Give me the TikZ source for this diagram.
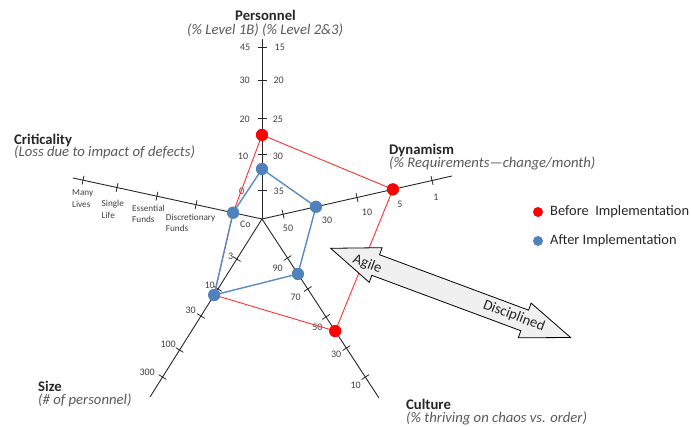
\documentclass[tikz,border=0pt]{standalone}
\usepackage{fontspec}
\setmainfont{Carlito}
\usetikzlibrary{calc}
\definecolor{redpt}{HTML}{FF0000}
\definecolor{redln}{HTML}{FF3030}
\definecolor{bluept}{HTML}{4F81BD}
\definecolor{blueln}{HTML}{5A8AC6}
\definecolor{subgray}{HTML}{595959}
\definecolor{lblgray}{HTML}{404040}
\definecolor{txtdark}{HTML}{262626}
\definecolor{arrowfill}{HTML}{F0F0F0}
\begin{document}
\begin{tikzpicture}[x=1pt,y=-1pt,
  axisline/.style={draw=black!85,line width=0.9pt},
  tickmark/.style={draw=black!85,line width=0.8pt},
  ticklbl/.style={font=\fontsize{10}{12}\selectfont,text=lblgray,inner sep=0pt},
  critlbl/.style={font=\fontsize{9.2}{11.2}\selectfont,text=lblgray,inner sep=0pt,anchor=base west},
  axtitle/.style={font=\fontsize{14.7}{17}\selectfont\bfseries,text=txtdark,inner sep=0pt,anchor=base west},
  axsub/.style={font=\fontsize{14.7}{17}\selectfont\itshape,text=subgray,inner sep=0pt,anchor=base west},
  legendtxt/.style={font=\fontsize{14.4}{17}\selectfont,text=txtdark,inner sep=0pt,anchor=base west},
  arrowtxt/.style={font=\fontsize{14.7}{17}\selectfont,text=txtdark,inner sep=0pt,rotate=-21},
  redline/.style={draw=redln,line width=0.9pt},
  blueline/.style={draw=blueln,line width=1.4pt},
  reddot/.style={circle,fill=redpt,inner sep=0pt,minimum size=12pt},
  bluedot/.style={circle,fill=bluept,inner sep=0pt,minimum size=12pt},
  bigarrow/.style={draw=black,line width=0.8pt,fill=arrowfill,line join=miter}
]
\useasboundingbox (0,0) rectangle (691,427);

% ---- axes: centre and the five outer ends
\coordinate (O)   at (262,219);
\coordinate (EP)  at (262,39);   % personnel
\coordinate (ED)  at (452,176);  % dynamism
\coordinate (EU)  at (379,398);  % culture
\coordinate (ES)  at (150,397);  % size
\coordinate (EK)  at (73,178);   % criticality

\foreach \e in {EP,ED,EU,ES,EK} \draw[axisline] (O) -- (\e);

% ---- tick marks, placed as fractions along each axis
\foreach \e/\fl in {EP/{0.161,0.361,0.561,0.772,0.956},
                    ED/{0.111,0.284,0.5,0.689,0.895},
                    EU/{0.218,0.391,0.547,0.721,0.883},
                    ES/{0.225,0.393,0.545,0.736,0.888},
                    EK/{0.349,0.556,0.767,0.947}}{
  \foreach \f in \fl {
    \coordinate (t) at ($(O)!\f!(\e)$);
    \draw[tickmark] ($(t)!4.5pt!90:(\e)$) -- ($(t)!4.5pt!-90:(\e)$);
  }
}

% ---- personnel scale labels
\node[ticklbl,anchor=east] (pl45) at (250.5,47.3) {45};
\node[ticklbl,anchor=east] (pl30) at (250,80) {30};
\node[ticklbl,anchor=east] (pl20) at (250,119) {20};
\node[ticklbl,anchor=east] (pl10) at (248.3,156) {10};
\node[ticklbl,anchor=east] (pl0)  at (244.3,191) {0};
\node[ticklbl,anchor=west] (pr15) at (274.5,47.3) {15};
\node[ticklbl,anchor=west] (pr20) at (273.3,80) {20};
\node[ticklbl,anchor=west] (pr25) at (272.7,119) {25};
\node[ticklbl,anchor=west] (pr30) at (272.7,156) {30};
\node[ticklbl,anchor=west] (pr35) at (273.5,191) {35};

% ---- dynamism scale labels
\node[ticklbl] (d50) at (288,228) {50};
\node[ticklbl] (d30) at (327,220) {30};
\node[ticklbl] (d10) at (367,212) {10};
\node[ticklbl] (d5)  at (400,204) {5};
\node[ticklbl] (d1)  at (436,197) {1};

% ---- culture scale labels
\node[ticklbl,anchor=east] (u90) at (283,268) {90};
\node[ticklbl,anchor=east] (u70) at (301,297) {70};
\node[ticklbl,anchor=east] (u50) at (322.7,327) {50};
\node[ticklbl,anchor=east] (u30) at (341.5,354.3) {30};
\node[ticklbl,anchor=east] (u10) at (361,385.7) {10};

% ---- size scale labels
\node[ticklbl,anchor=east] (s3)   at (233.5,256.7) {3};
\node[ticklbl,anchor=east] (s10)  at (215,285) {10};
\node[ticklbl,anchor=east] (s30)  at (196,310) {30};
\node[ticklbl,anchor=east] (s100) at (176,344.3) {100};
\node[ticklbl,anchor=east] (s300) at (155,372.7) {300};

% ---- criticality scale labels
\node[critlbl] (kmany) at (72,196)    {\begin{tabular}[t]{@{}l@{}}Many\\Lives\end{tabular}};
\node[critlbl] (ksing) at (101.5,207) {\begin{tabular}[t]{@{}l@{}}Single\\Life\end{tabular}};
\node[critlbl] (kess)  at (132,211.7) {\begin{tabular}[t]{@{}l@{}}Essential\\Funds\end{tabular}};
\node[critlbl] (kdisc) at (165.7,220.7) {\begin{tabular}[t]{@{}l@{}}Discretionary\\Funds\end{tabular}};
\node[ticklbl] (kco) at (245.3,224.5) {Co};

% ---- data points
\coordinate (P1) at ($(O)!0.467!(EP)$);
\coordinate (D1) at ($(O)!0.689!(ED)$);
\coordinate (U1) at ($(O)!0.626!(EU)$);
\coordinate (P2) at ($(O)!0.278!(EP)$);
\coordinate (D2) at ($(O)!0.284!(ED)$);
\coordinate (U2) at ($(O)!0.307!(EU)$);
\coordinate (SS) at ($(O)!0.427!(ES)$);
\coordinate (KK) at ($(O)!0.153!(EK)$);

\node[reddot]  (p1) at (P1) {};
\node[reddot]  (d1) at (D1) {};
\node[reddot]  (u1) at (U1) {};
\node[bluedot] (p2) at (P2) {};
\node[bluedot] (d2) at (D2) {};
\node[bluedot] (u2) at (U2) {};
\node[bluedot] (ss) at (SS) {};
\node[bluedot] (kk) at (KK) {};

% before implementation
\draw[redline] (p1.center) -- (d1.center) -- (u1.center) -- (ss.center) -- (kk.center) -- cycle;
% after implementation
\draw[blueline] (p2.center) -- (d2.center) -- (u2.center) -- (ss.center) -- (kk.center) -- cycle;

% dots on top of the lines
\foreach \n in {p1,d1,u1} \fill[redpt] (\n) circle (6pt);
\foreach \n in {p2,d2,u2,ss,kk} \fill[bluept] (\n) circle (6pt);

% ---- Agile / Disciplined double arrow
\begin{scope}[shift={(330.7,248.3)},rotate=-20.4]
  \draw[bigarrow] (0,0) -- (48,-18.5) -- (48,-11) -- (207,-11) -- (207,-18.5)
     -- (256,0) -- (207,18.5) -- (207,11) -- (48,11) -- (48,18.5) -- cycle;
\end{scope}
\node[arrowtxt] (agile) at (367.3,264.3) {Agile};
\node[arrowtxt] (disc)  at (514,316) {Disciplined};

% ---- axis titles
\node[axtitle] (tp)  at (235,21)    {Personnel};
\node[axsub]   (sp)  at (187,34.5)  {(\% Level 1B) (\% Level 2\&3)};
\node[axtitle] (tk)  at (14,145)    {Criticality};
\node[axsub]   (sk)  at (14,157)    {(Loss due to impact of defects)};
\node[axtitle] (td)  at (389,155)   {Dynamism};
\node[axsub]   (sd)  at (389,167.3) {(\% Requirements---change/month)};
\node[axtitle] (ts)  at (38,391.7)  {Size};
\node[axsub]   (ssub) at (38,405)   {(\# of personnel)};
\node[axtitle] (tu)  at (406,410)   {Culture};
\node[axsub]   (su)  at (406,422.7) {(\% thriving on chaos vs. order)};

% ---- legend
\node[reddot,minimum size=10pt]  (lr) at (538,212) {};
\node[legendtxt] (lrt) at (550,215.7) {Before\ \ Implementation};
\node[bluedot,minimum size=10pt] (lb) at (538,241) {};
\node[legendtxt] (lbt) at (550,245) {After Implementation};
\end{tikzpicture}
\end{document}
